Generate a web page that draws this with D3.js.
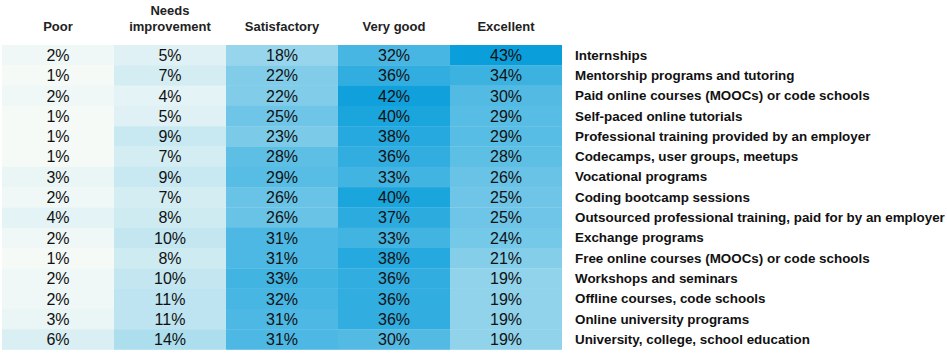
<!DOCTYPE html>
<html lang="en">
<head>
  <meta charset="utf-8">
  <title>Learning formats rating</title>
  <script src="https://cdn.jsdelivr.net/npm/d3@7"></script>
  <style>
  body { margin: 0; background: #fff; }
  text { font-family: "Liberation Sans", Arial, sans-serif; }
  .head { font-weight: bold; font-size: 13px; fill: #222; }
  .cell-label { font-size: 16px; fill: #111; }
  .row-label { font-weight: bold; font-size: 13.4px; fill: #111; }
  </style>
</head>
<body>
<script>
// ratings (columns) and learning formats (rows)
var ratings = ['Poor', 'Needs improvement', 'Satisfactory', 'Very good', 'Excellent'];
var headLines = [['Poor'], ['Needs', 'improvement'], ['Satisfactory'], ['Very good'], ['Excellent']];

var formats = [
  'Internships',
  'Mentorship programs and tutoring',
  'Paid online courses (MOOCs) or code schools',
  'Self-paced online tutorials',
  'Professional training provided by an employer',
  'Codecamps, user groups, meetups',
  'Vocational programs',
  'Coding bootcamp sessions',
  'Outsourced professional training, paid for by an employer',
  'Exchange programs',
  'Free online courses (MOOCs) or code schools',
  'Workshops and seminars',
  'Offline courses, code schools',
  'Online university programs',
  'University, college, school education'
];

// percentages per rating, same order as formats
var poor        = [2, 1, 2, 1, 1, 1, 3, 2, 4, 2, 1, 2, 2, 3, 6];
var needsImpr   = [5, 7, 4, 5, 9, 7, 9, 7, 8, 10, 8, 10, 11, 11, 14];
var satisfactory= [18, 22, 22, 25, 23, 28, 29, 26, 26, 31, 31, 33, 32, 31, 31];
var veryGood    = [32, 36, 42, 40, 38, 36, 33, 40, 37, 33, 38, 36, 36, 36, 30];
var excellent   = [43, 34, 30, 29, 29, 28, 26, 25, 25, 24, 21, 19, 19, 19, 19];

var series = [poor, needsImpr, satisfactory, veryGood, excellent];

var width = 947;
var height = 353;

var svg = d3.select('body')
  .append('svg')
  .attr('width', width)
  .attr('height', height);

var x = d3.scaleBand()
  .domain(ratings)
  .range([2, 562]);

var y = d3.scaleBand()
  .domain(formats)
  .range([45, 349.5]);

// light greenish white -> strong blue
var color = d3.scaleLinear()
  .domain([1, 43])
  .range(['#f5faf7', '#0a9edb'])
  .interpolate(d3.interpolateRgb);

// flatten into cells
var cells = [];
series.forEach(function(vals, ci) {
  vals.forEach(function(v, ri) {
    cells.push({ rating: ratings[ci], format: formats[ri], value: v });
  });
});

var grid = svg.append('g');

grid.selectAll('rect')
  .data(cells)
  .enter()
  .append('rect')
  .attr('x', function(d) { return x(d.rating); })
  .attr('y', function(d) { return y(d.format); })
  .attr('width', x.bandwidth())
  .attr('height', y.bandwidth() + 0.3)
  .attr('fill', function(d) { return color(d.value); });

grid.selectAll('text')
  .data(cells)
  .enter()
  .append('text')
  .attr('class', 'cell-label')
  .attr('x', function(d) { return x(d.rating) + x.bandwidth() / 2; })
  .attr('y', function(d) { return y(d.format) + y.bandwidth() / 2 + 5.8; })
  .attr('text-anchor', 'middle')
  .text(function(d) { return d.value + '%'; });

// column headers
var heads = svg.append('g');
heads.selectAll('text')
  .data(ratings)
  .enter()
  .append('text')
  .attr('class', 'head')
  .attr('text-anchor', 'middle')
  .attr('x', function(d) { return x(d) + x.bandwidth() / 2; })
  .attr('y', 31)
  .each(function(d, i) {
    var lines = headLines[i];
    var t = d3.select(this);
    lines.forEach(function(line, k) {
      t.append('tspan')
        .attr('x', x(d) + x.bandwidth() / 2)
        .attr('y', 31 - (lines.length - 1 - k) * 16)
        .text(line);
    });
  });

// row labels on the right
svg.append('g')
  .selectAll('text')
  .data(formats)
  .enter()
  .append('text')
  .attr('class', 'row-label')
  .attr('x', 575)
  .attr('y', function(d) { return y(d) + y.bandwidth() / 2 + 4.5; })
  .text(function(d) { return d; });
</script>
</body>
</html>
